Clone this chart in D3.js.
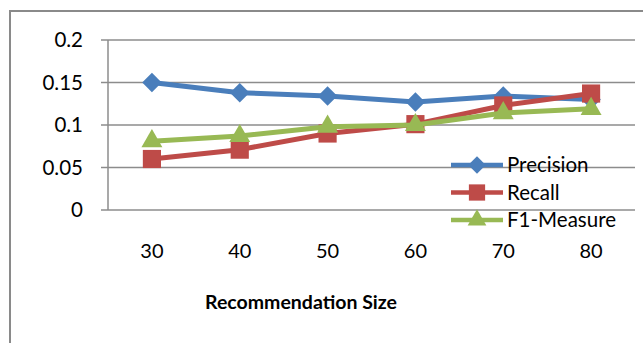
<!DOCTYPE html>
<html>
<head>
<meta charset="utf-8">
<script src="https://cdn.jsdelivr.net/npm/d3@7"></script>
<style>
  html, body { margin: 0; padding: 0; background: #fff; }
  svg { display: block; }
  text { font-family: Lato, "Open Sans", sans-serif; fill: #000; }
</style>
</head>
<body>
<svg id="chart" width="643" height="343"></svg>
<script>
// Recommendation sizes on the x axis
const sizes = ["30", "40", "50", "60", "70", "80"];
// Metric values per recommendation size
const precision = [0.150, 0.138, 0.134, 0.127, 0.134, 0.130];
const recall    = [0.060, 0.071, 0.090, 0.101, 0.123, 0.137];
const f1        = [0.081, 0.087, 0.098, 0.100, 0.114, 0.119];
const seriesNames = ["Precision", "Recall", "F1-Measure"];
const yTicks = [0, 0.05, 0.1, 0.15, 0.2];
const yTickLabels = ["0", "0.05", "0.1", "0.15", "0.2"];
const xTitle = "Recommendation Size";

// A square diamond (rotated square) marker: size is the area
const squareDiamond = {
  draw(context, size) {
    const r = Math.sqrt(size / 2);
    context.moveTo(0, -r);
    context.lineTo(r, 0);
    context.lineTo(0, r);
    context.lineTo(-r, 0);
    context.closePath();
  }
};

const series = [
  { name: seriesNames[0], values: precision, color: "#4a7ebb", shape: "diamond" },
  { name: seriesNames[1], values: recall,    color: "#be4b48", shape: "square" },
  { name: seriesNames[2], values: f1,        color: "#98b954", shape: "triangle" }
];

const svg = d3.select("#chart");

// Outer chart frame
svg.append("rect")
  .attr("x", 10).attr("y", 11)
  .attr("width", 660).attr("height", 360)
  .attr("fill", "none").attr("stroke", "#8a8a8a").attr("stroke-width", 2);

const plot = { left: 108, right: 635, top: 40, bottom: 210 };

const x = d3.scaleBand().domain(sizes).range([plot.left, plot.right]);
const y = d3.scaleLinear().domain([0, 0.2]).range([plot.bottom, plot.top]);

// Horizontal gridlines
svg.append("g").selectAll("line").data(yTicks).join("line")
  .attr("x1", plot.left).attr("x2", plot.right)
  .attr("y1", d => y(d)).attr("y2", d => y(d))
  .attr("stroke", "#8c8c8c").attr("stroke-width", 1.5);

// Y axis line with outward ticks
svg.append("line")
  .attr("x1", plot.left).attr("x2", plot.left)
  .attr("y1", plot.top).attr("y2", plot.bottom)
  .attr("stroke", "#8c8c8c").attr("stroke-width", 1.5);
svg.append("g").selectAll("line").data(yTicks).join("line")
  .attr("x1", plot.left - 7).attr("x2", plot.left)
  .attr("y1", d => y(d)).attr("y2", d => y(d))
  .attr("stroke", "#8c8c8c").attr("stroke-width", 1.5);

// Y tick labels
svg.append("g").selectAll("text").data(yTicks).join("text")
  .attr("x", 83).attr("y", d => y(d))
  .attr("dy", "0.35em")
  .attr("text-anchor", "end")
  .attr("font-size", 20.5)
  .text((d, i) => yTickLabels[i]);

// X tick labels
svg.append("g").selectAll("text").data(sizes).join("text")
  .attr("x", d => x(d) + x.bandwidth() / 2).attr("y", 251)
  .attr("dy", "0.35em")
  .attr("text-anchor", "middle")
  .attr("font-size", 20)
  .text(d => d);

// X axis title
svg.append("text")
  .attr("x", 301).attr("y", 302)
  .attr("dy", "0.35em")
  .attr("text-anchor", "middle")
  .attr("font-size", 19.5).attr("font-weight", "bold")
  .text(xTitle);

const symbolType = { diamond: squareDiamond, square: d3.symbolSquare, triangle: d3.symbolTriangle };
const symbolSize = { diamond: 190, square: 330, triangle: 190 };

const line = d3.line()
  .x((d, i) => x(sizes[i]) + x.bandwidth() / 2)
  .y(d => y(d));

// Lines and markers, drawn series by series
series.forEach(s => {
  const g = svg.append("g");
  g.append("path")
    .attr("d", line(s.values))
    .attr("fill", "none")
    .attr("stroke", s.color)
    .attr("stroke-width", 5)
    .attr("stroke-linejoin", "round");
  g.selectAll("path.m").data(s.values).join("path")
    .attr("class", "m")
    .attr("transform", (d, i) => `translate(${x(sizes[i]) + x.bandwidth() / 2},${y(d)})`)
    .attr("d", d3.symbol().type(symbolType[s.shape]).size(symbolSize[s.shape]))
    .attr("fill", s.color);
});

// Legend
const legend = svg.append("g");
series.forEach((s, i) => {
  const ly = 165 + i * 27.5;
  legend.append("line")
    .attr("x1", 451).attr("x2", 503)
    .attr("y1", ly).attr("y2", ly)
    .attr("stroke", s.color).attr("stroke-width", 4.5);
  legend.append("path")
    .attr("transform", `translate(477,${ly})`)
    .attr("d", d3.symbol().type(symbolType[s.shape]).size(symbolSize[s.shape] * 0.8))
    .attr("fill", s.color);
  legend.append("text")
    .attr("x", 507).attr("y", ly)
    .attr("dy", "0.35em")
    .attr("font-size", 20.5)
    .text(s.name);
});
</script>
</body>
</html>
